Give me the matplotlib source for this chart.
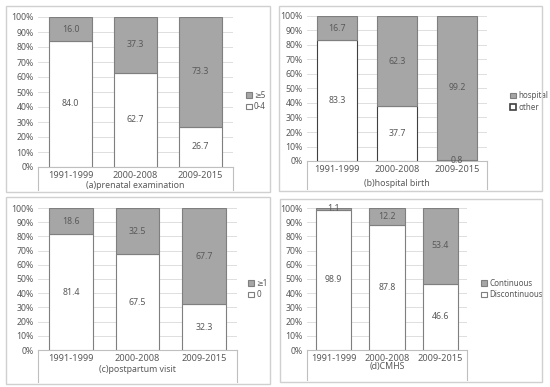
import matplotlib
matplotlib.use("Agg")
import matplotlib.pyplot as plt
from matplotlib.patches import Patch, Rectangle
from matplotlib.lines import Line2D

periods = ["1991-1999", "2000-2008", "2009-2015"]

# (a) prenatal examination
a_low = [84.0, 62.7, 26.7]
a_high = [16.0, 37.3, 73.3]
# (b) hospital birth
b_low = [83.3, 37.7, 0.8]
b_high = [16.7, 62.3, 99.2]
# (c) postpartum visit
c_low = [81.4, 67.5, 32.3]
c_high = [18.6, 32.5, 67.7]
# (d) CMHS
d_low = [98.9, 87.8, 46.6]
d_high = [1.1, 12.2, 53.4]

TXT, GRAY, EDGE, GRID, FRAME = "#595959", "#a6a6a6", "#7f7f7f", "#d9d9d9", "#d0d0d0"
plt.rcParams.update({"font.family": ["Noto Sans", "DejaVu Sans"], "font.size": 6.3,
                     "text.color": TXT, "xtick.color": TXT, "ytick.color": TXT})

W, H = 550, 387
fig = plt.figure(figsize=(W / 100, H / 100), dpi=100)

panels = [
    # low, high, legend labels, subtitle, axes px (x0, x1, ytop, ybot), frame px,
    # legend pos, subtitle offset px, white-edge
    (a_low, a_high, ("\u22655", "0-4"), "(a)prenatal examination",
     (38, 233, 17, 167), (6, 6, 270, 192), (1.05, 0.44), 19, EDGE),
    (b_low, b_high, ("hospital", "other"), "(b)hospital birth",
     (307, 487, 16, 161), (279, 6, 542, 191), (1.11, 0.41), 23, "#404040"),
    (c_low, c_high, ("\u22651", "0"), "(c)postpartum visit",
     (38, 237, 208, 350), (6, 197, 270, 384), (1.04, 0.43), 19, EDGE),
    (d_low, d_high, ("Continuous", "Discontinuous"), "(d)CMHS",
     (307, 467, 208, 350), (280, 199, 542, 382), (1.07, 0.43), 17, EDGE),
]

for low, high, leg, sub, (x0, x1, yt, yb), (fx0, fy0, fx1, fy1), lpos, soff, wedge in panels:
    fig.add_artist(Rectangle((fx0 / W, 1 - fy1 / H), (fx1 - fx0) / W, (fy1 - fy0) / H,
                             transform=fig.transFigure, fill=False, ec=FRAME, lw=1.0))
    ax = fig.add_axes([x0 / W, 1 - yb / H, (x1 - x0) / W, (yb - yt) / H])
    xs = range(len(periods))
    ax.bar(xs, low, width=0.66, color="white", edgecolor=wedge, lw=0.8, zorder=3)
    ax.bar(xs, high, bottom=low, width=0.66, color=GRAY, edgecolor=EDGE, lw=0.8, zorder=3)
    for x, lo, hi in zip(xs, low, high):
        ax.text(x, lo / 2, f"{lo:.1f}", ha="center", va="center", zorder=4)
        ax.text(x, lo + hi / 2, f"{hi:.1f}", ha="center", va="center", zorder=4)
    ax.set_ylim(0, 100)
    ax.set_xlim(-0.5, 2.5)
    ax.set_yticks(range(0, 101, 10))
    ax.set_yticklabels([f"{v}%" for v in range(0, 101, 10)])
    ax.set_xticks(list(xs))
    ax.set_xticklabels(periods, fontsize=6.6)
    ax.tick_params(length=0, pad=3)
    ax.grid(axis="y", color=GRID, lw=0.6, zorder=0)
    for s in ["top", "right", "left"]:
        ax.spines[s].set_visible(False)
    ax.spines["bottom"].set_color("#bfbfbf")
    ax.spines["bottom"].set_linewidth(0.8)
    # category-axis box lines
    span = yb - yt
    depth = (fy1 - 2 - yb) / span
    for xx in (0, 1):
        ax.add_line(Line2D([xx, xx], [0, -depth], transform=ax.transAxes,
                           color="#bfbfbf", lw=0.8, clip_on=False))
    ax.text(0.5, -soff / span, sub, transform=ax.transAxes,
            ha="center", va="center", fontsize=6.3)
    ax.legend(handles=[Patch(fc=GRAY, ec=EDGE, lw=0.8, label=leg[0]),
                       Patch(fc="white", ec=wedge, lw=1.2 if wedge != EDGE else 0.8,
                             label=leg[1])],
              loc="center left", bbox_to_anchor=lpos, frameon=False, borderaxespad=0,
              handlelength=0.7, handleheight=0.7, handletextpad=0.3,
              labelspacing=0.35, fontsize=5.8, labelcolor=TXT)

fig.savefig("out.png", dpi=100)
